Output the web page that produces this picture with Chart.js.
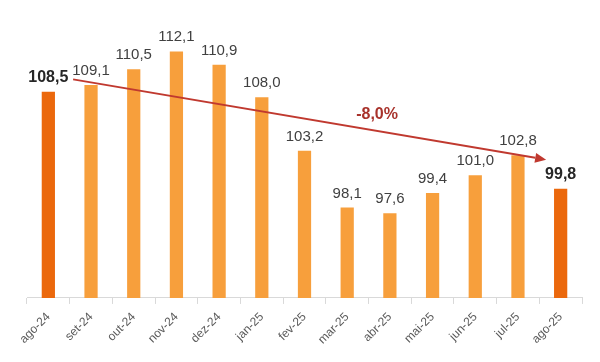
<!DOCTYPE html>
<html>
<head>
<meta charset="utf-8">
<script src="https://cdn.jsdelivr.net/npm/chart.js@4"></script>
<style>
html,body{margin:0;padding:0;background:#fff;}
#wrap{width:600px;height:362px;position:relative;}
</style>
</head>
<body>
<div id="wrap"><canvas id="c" width="600" height="362"></canvas></div>
<script>
const categories = ['ago-24','set-24','out-24','nov-24','dez-24','jan-25','fev-25','mar-25','abr-25','mai-25','jun-25','jul-25','ago-25'];
const values = [108.5,109.1,110.5,112.1,110.9,108.0,103.2,98.1,97.6,99.4,101.0,102.8,99.8];
const highlight = [true,false,false,false,false,false,false,false,false,false,false,false,true];
const changeLabel = '-8,0%';

const DARK = '#EB680C';
const LIGHT = '#F79F3C';

const fmt = v => v.toFixed(1).replace('.', ',');

const labelPlugin = {
  id: 'barLabels',
  afterDatasetsDraw(chart) {
    const ctx = chart.ctx;
    const meta = chart.getDatasetMeta(0);
    ctx.save();
    ctx.textAlign = 'center';
    ctx.textBaseline = 'alphabetic';
    meta.data.forEach((bar, i) => {
      ctx.font = (highlight[i] ? 'bold 16px ' : '15px ') + '"Liberation Sans", Arial, sans-serif';
      ctx.fillStyle = highlight[i] ? '#262626' : '#404040';
      ctx.fillText(fmt(values[i]), bar.x, bar.y - 10);
    });
    ctx.restore();
  }
};

const arrowPlugin = {
  id: 'trendArrow',
  afterDatasetsDraw(chart) {
    const ctx = chart.ctx;
    const xs = chart.scales.x, ys = chart.scales.y;
    const n = values.length;
    const px = f => {
      const i = Math.floor(f), fr = f - i;
      const a = xs.getPixelForValue(i), b = xs.getPixelForValue(Math.min(i + 1, n - 1));
      return a + (b - a) * fr;
    };
    const x1 = px(0.58), y1 = ys.getPixelForValue(values[0] + 1.1);
    const x2 = px(n - 1 - 0.34), y2 = ys.getPixelForValue(values[n - 1] + 2.6);
    const ang = Math.atan2(y2 - y1, x2 - x1);
    const head = 11, hw = 5;
    ctx.save();
    ctx.strokeStyle = '#C0392F';
    ctx.fillStyle = '#C0392F';
    ctx.lineWidth = 2;
    ctx.beginPath();
    ctx.moveTo(x1, y1);
    ctx.lineTo(x2 - Math.cos(ang) * head, y2 - Math.sin(ang) * head);
    ctx.stroke();
    ctx.beginPath();
    ctx.moveTo(x2, y2);
    ctx.lineTo(x2 - Math.cos(ang) * head - Math.sin(ang) * hw, y2 - Math.sin(ang) * head + Math.cos(ang) * hw);
    ctx.lineTo(x2 - Math.cos(ang) * head + Math.sin(ang) * hw, y2 - Math.sin(ang) * head - Math.cos(ang) * hw);
    ctx.closePath();
    ctx.fill();
    const lx = px(7.7);
    const ly = y1 + (y2 - y1) * ((lx - x1) / (x2 - x1)) - 12;
    ctx.font = 'bold 16px "Liberation Sans", Arial, sans-serif';
    ctx.fillStyle = '#A8322B';
    ctx.textAlign = 'center';
    ctx.textBaseline = 'alphabetic';
    ctx.fillText(changeLabel, lx, ly);
    ctx.restore();
  }
};

new Chart(document.getElementById('c'), {
  type: 'bar',
  data: {
    labels: categories,
    datasets: [{
      data: values,
      backgroundColor: highlight.map(h => h ? DARK : LIGHT),
      borderWidth: 0,
      categoryPercentage: 1.0,
      barPercentage: 0.31
    }]
  },
  options: {
    responsive: false,
    animation: false,
    devicePixelRatio: 1,
    layout: { padding: { left: 27, right: 18, top: 8, bottom: 9 } },
    plugins: { legend: { display: false }, tooltip: { enabled: false } },
    scales: {
      y: { display: false, min: 90, max: 116 },
      x: {
        offset: true,
        grid: { offset: true, drawOnChartArea: false, drawTicks: true, tickLength: 6, color: '#D9D9D9' },
        border: { color: '#D9D9D9', width: 1 },
        ticks: {
          color: '#595959',
          font: { size: 12, family: '"Liberation Sans", Arial, sans-serif' },
          maxRotation: 45, minRotation: 45, padding: 6, autoSkip: false
        }
      }
    }
  },
  plugins: [labelPlugin, arrowPlugin]
});
</script>
</body>
</html>
